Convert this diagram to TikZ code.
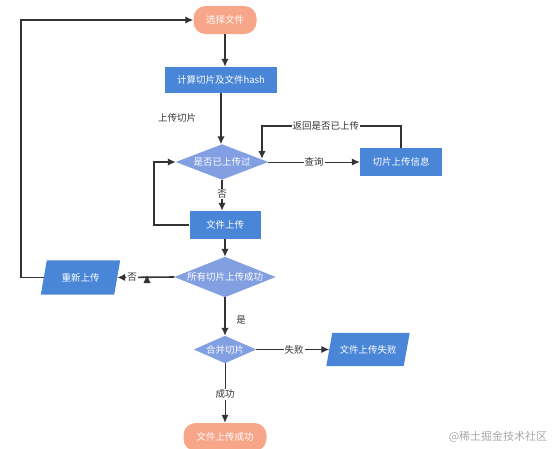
\documentclass[tikz,border=0pt]{standalone}
\usepackage{fontspec}
\setmainfont{Noto Sans CJK SC}
\usetikzlibrary{arrows.meta,calc,backgrounds}
\definecolor{boxblue}{HTML}{4A86D8}
\definecolor{diablue}{HTML}{829FE2}
\definecolor{salmon}{HTML}{F8A68A}
\definecolor{linegray}{HTML}{333333}
\definecolor{wmgray}{HTML}{A8A8A8}
\tikzset{
  base/.style={inner sep=0pt, font=\fontsize{9.5}{11}\selectfont, text=white},
  procbox/.style={base, fill=boxblue},
  termbox/.style={base, fill=salmon, rounded corners=12pt},
  shapebox/.style={base},
  lbl/.style={font=\fontsize{9.5}{11}\selectfont, text=linegray, fill=white, inner sep=1pt},
  plainlbl/.style={font=\fontsize{9.5}{11}\selectfont, text=linegray, inner sep=1pt},
  flow/.style={draw=linegray, line width=1.6pt, -{Latex[length=8pt,width=7.5pt]}},
  thinflow/.style={draw=linegray, line width=1pt, -{Latex[length=8pt,width=7pt]}},
}
\begin{document}
\begin{tikzpicture}[x=1pt,y=-1pt]
\useasboundingbox (0,0) rectangle (554,448);
% nodes
\node[termbox, minimum width=63pt, minimum height=28pt] (s) at (225,20) {选择文件};
\node[procbox, minimum width=112pt, minimum height=26pt] (h) at (221,80) {计算切片及文件hash};
\node[shapebox, minimum width=92pt, minimum height=35pt] (d1) at (222,162) {是否已上传过};
\node[procbox, minimum width=82pt, minimum height=28pt] (info) at (401,162) {切片上传信息};
\node[procbox, minimum width=71pt, minimum height=28pt] (u) at (225,225) {文件上传};
\node[shapebox, minimum width=101pt, minimum height=40pt] (d2) at (225,277) {所有切片上传成功};
\node[shapebox, minimum width=73pt, minimum height=34pt] (r) at (80.5,277.5) {重新上传};
\node[shapebox, minimum width=62pt, minimum height=27pt] (d3) at (225,349.5) {合并切片};
\node[shapebox, minimum width=77pt, minimum height=33pt] (f) at (368,349.5) {文件上传失败};
\node[termbox, minimum width=83pt, minimum height=28pt] (e) at (225,437) {文件上传成功};
% shape fills
\begin{scope}[on background layer]
  \fill[diablue] (d1.north) -- (d1.east) -- (d1.south) -- (d1.west) -- cycle;
  \fill[diablue] (d2.north) -- (d2.east) -- (d2.south) -- (d2.west) -- cycle;
  \fill[diablue] (d3.north) -- (d3.east) -- (d3.south) -- (d3.west) -- cycle;
  \fill[boxblue] ($(r.north west)+(3,0)$) -- ($(r.north east)+(3,0)$) -- ($(r.south east)+(-3,0)$) -- ($(r.south west)+(-3,0)$) -- cycle;
  \fill[boxblue] ($(f.north west)+(3,0)$) -- ($(f.north east)+(3,0)$) -- ($(f.south east)+(-3,0)$) -- ($(f.south west)+(-3,0)$) -- cycle;
\end{scope}
% coordinates
\coordinate (rtop) at (262,126);
\coordinate (rt) at (262,159);
\coordinate (lx) at (154,225);
\coordinate (bl) at (21,277.5);
% connectors
\draw[flow] (s.south) -- (s.south |- h.north);
\draw[flow] (h.south) -- (h.south |- d1.north);
\node[plainlbl] (l1) at (177,118) {上传切片};
\draw[thinflow] (d1.east) -- node[lbl, pos=0.5] {查询} (info.west);
\draw[flow] (info.north) |- node[lbl, pos=0.77] {返回是否已上传} (rtop) -- (rt);
\draw[flow] (d1.south) -- node[lbl, pos=0.45] {否} (d1.south |- u.north);
\draw[flow] (u.west) -- (lx) |- (d1.west);
\draw[flow] (u.south) -- (u.south |- d2.north);
\draw[flow] (d2.west) -- node[lbl, pos=0.74] {否} (r.east);
\fill[linegray] (147,275.5) -- (150.5,283) -- (143.5,283) -- cycle;
\draw[flow] (r.west) -- (bl) |- (s.west);
\draw[flow] (d2.south) -- (d3.north);
\node[plainlbl] (l2) at (241,320) {是};
\draw[thinflow] (d3.east) -- node[lbl, pos=0.52] {失败} (f.west);
\draw[thinflow] (d3.south) -- node[lbl, pos=0.52] {成功} (e.north);
\node[font=\fontsize{11}{13}\selectfont, text=wmgray, inner sep=0pt] (wm) at (498,437) {@稀土掘金技术社区};
\end{tikzpicture}
\end{document}
